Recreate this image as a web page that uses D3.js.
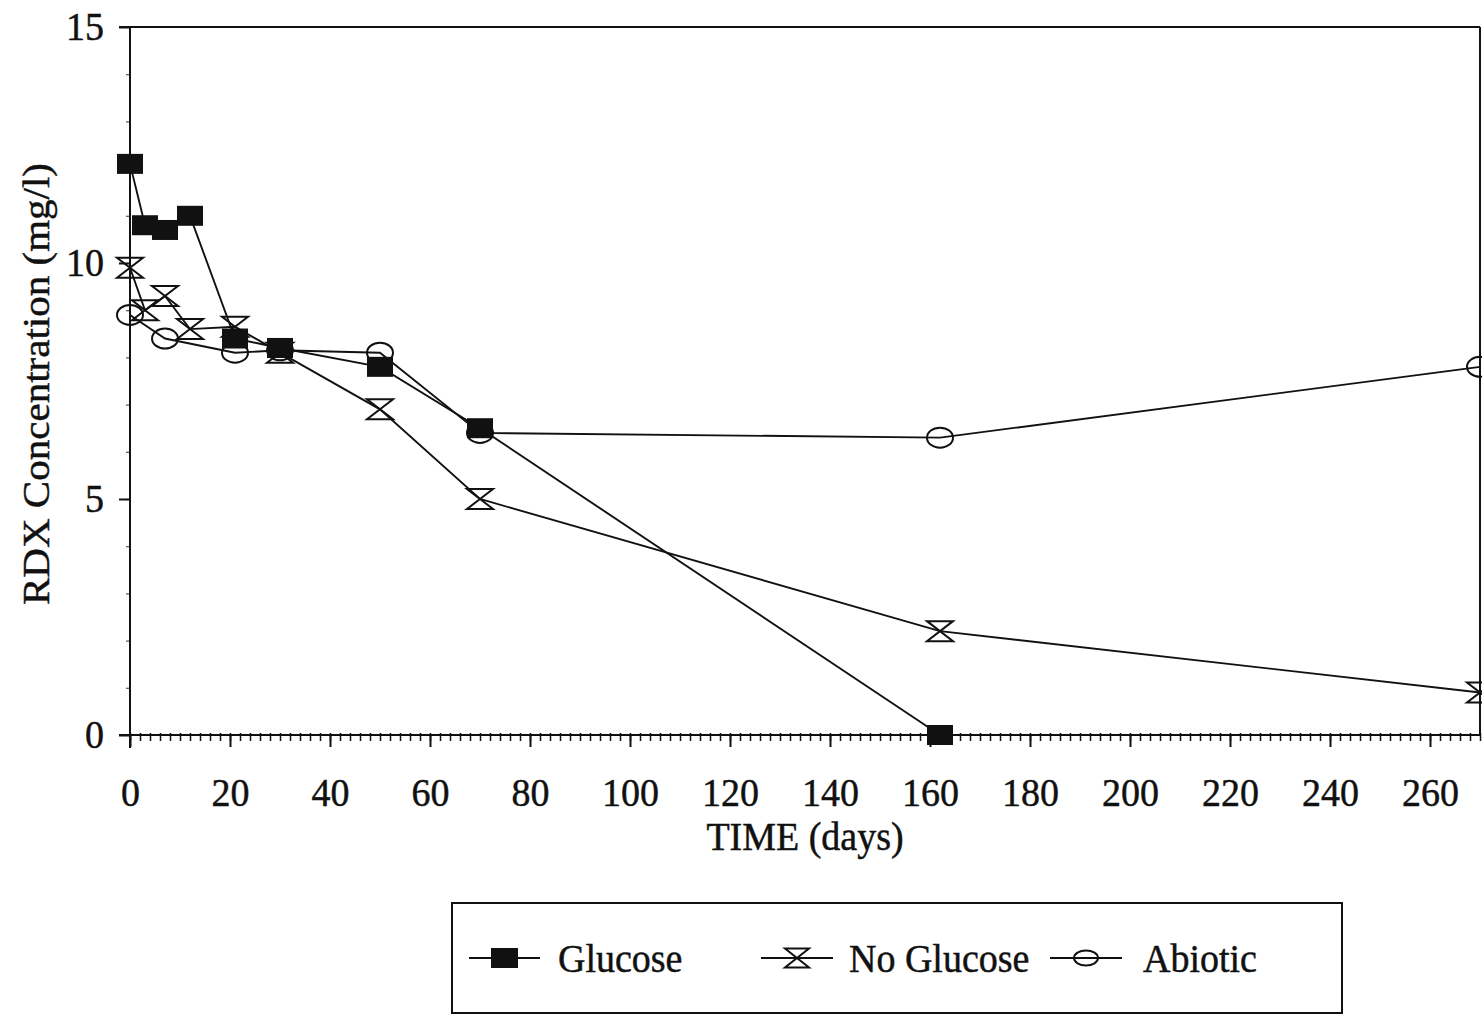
<!DOCTYPE html>
<html>
<head>
<meta charset="utf-8">
<script src="https://cdn.jsdelivr.net/npm/d3@7"></script>
<style>
  html, body { margin: 0; padding: 0; background: #fff; }
  svg { display: block; }
  text { font-family: "Liberation Serif", "Times New Roman", serif; fill: #111; stroke: #111; stroke-width: 0.45px; }
</style>
</head>
<body>
<svg id="chart" width="1482" height="1015"></svg>
<script>
// RDX concentration over time for three treatments
const glucoseDays   = [0, 3, 7, 12, 21, 30, 50, 70, 162];
const glucoseRDX    = [12.1, 10.8, 10.7, 11.0, 8.4, 8.2, 7.8, 6.5, 0];
const noGlucoseDays = [0, 3, 7, 12, 21, 30, 50, 70, 162, 270];
const noGlucoseRDX  = [9.9, 9.0, 9.3, 8.6, 8.65, 8.1, 6.9, 5.0, 2.2, 0.9];
const abioticDays   = [0, 7, 21, 30, 50, 70, 162, 270];
const abioticRDX    = [8.9, 8.4, 8.1, 8.15, 8.1, 6.4, 6.3, 7.8];

const xTicks = [0, 20, 40, 60, 80, 100, 120, 140, 160, 180, 200, 220, 240, 260];
const yTicks = [0, 5, 10, 15];
const seriesNames = ["Glucose", "No Glucose", "Abiotic"];

const svg = d3.select("#chart");
const ink = "#111";
const stretch = "scale(1,1.08)";

const x = d3.scaleLinear().domain([0, 270]).range([130, 1480]);
const y = d3.scaleLinear().domain([0, 15]).range([735, 27]);

// frame: top and right edges
svg.append("line").attr("x1", 119).attr("x2", x(270)).attr("y1", y(15)).attr("y2", y(15))
  .attr("stroke", ink).attr("stroke-width", 2);
svg.append("line").attr("x1", x(270)).attr("x2", x(270)).attr("y1", y(15)).attr("y2", y(0))
  .attr("stroke", ink).attr("stroke-width", 2);

// minor x ticks every 2 days
const minor = svg.append("g").attr("transform", "translate(0,733)")
  .call(d3.axisBottom(x).tickValues(d3.range(0, 271, 2)).tickSize(8).tickFormat(""));
minor.select(".domain").remove();
minor.selectAll("line").attr("stroke", ink).attr("stroke-width", 1.5);

// major x axis
const xAxis = svg.append("g").attr("transform", `translate(0,${y(0)})`)
  .call(d3.axisBottom(x).tickValues(xTicks).tickSize(12).tickSizeOuter(0));
xAxis.select(".domain").attr("d", `M119,0H${x(270)}`).attr("stroke", ink).attr("stroke-width", 2);
xAxis.selectAll(".tick line").attr("stroke", ink).attr("stroke-width", 2);
xAxis.selectAll(".tick text")
  .attr("y", null).attr("dy", null)
  .attr("transform", `translate(0,71) ${stretch}`)
  .style("font-size", "38px").attr("fill", ink);

// minor y ticks every unit
const yMinor = svg.append("g").attr("transform", `translate(${x(0)},0)`)
  .call(d3.axisLeft(y).tickValues(d3.range(0, 16, 1)).tickSize(4).tickFormat(""));
yMinor.select(".domain").remove();
yMinor.selectAll("line").attr("stroke", "#555").attr("stroke-width", 1.2);

// y axis
const yAxis = svg.append("g").attr("transform", `translate(${x(0)},0)`)
  .call(d3.axisLeft(y).tickValues(yTicks).tickSize(11).tickSizeOuter(0));
yAxis.select(".domain").attr("d", `M0,${y(15)}V${y(0) + 13}`).attr("stroke", ink).attr("stroke-width", 2);
yAxis.selectAll(".tick line").attr("stroke", ink).attr("stroke-width", 2);
yAxis.selectAll(".tick text")
  .attr("x", null).attr("dy", null)
  .attr("transform", `translate(-26,12) ${stretch}`)
  .attr("text-anchor", "end")
  .style("font-size", "38px").attr("fill", ink);

// axis titles
svg.append("text")
  .attr("transform", `translate(${(x(0) + x(270)) / 2},850) ${stretch}`)
  .attr("text-anchor", "middle").style("font-size", "38px")
  .text("TIME (days)");
svg.append("text")
  .attr("transform", `translate(49,384) ${stretch} rotate(-90)`)
  .attr("text-anchor", "middle").style("font-size", "38px")
  .text("RDX Concentration (mg/l)");

// marker shapes
function drawMarker(g, kind, w, h) {
  if (kind === 0) {
    g.append("rect").attr("x", -w / 2).attr("y", -h / 2).attr("width", w).attr("height", h)
      .attr("fill", ink);
  } else if (kind === 1) {
    g.append("path")
      .attr("d", `M${-w / 2},${-h / 2}L${w / 2},${-h / 2}L${-w / 2},${h / 2}L${w / 2},${h / 2}Z`)
      .attr("fill", "none").attr("stroke", ink).attr("stroke-width", 2)
      .attr("stroke-linejoin", "miter");
  } else {
    g.append("ellipse").attr("rx", w / 2).attr("ry", h / 2)
      .attr("fill", "none").attr("stroke", ink).attr("stroke-width", 2);
  }
}

const series = [
  { days: abioticDays, vals: abioticRDX, kind: 2 },
  { days: noGlucoseDays, vals: noGlucoseRDX, kind: 1 },
  { days: glucoseDays, vals: glucoseRDX, kind: 0 }
];

const line = d3.line().x(d => x(d[0])).y(d => y(d[1]));

series.forEach(s => {
  const pts = s.days.map((d, i) => [d, s.vals[i]]);
  svg.append("path").attr("d", line(pts))
    .attr("fill", "none").attr("stroke", ink).attr("stroke-width", 1.9);
});
series.forEach(s => {
  const pts = s.days.map((d, i) => [d, s.vals[i]]);
  pts.forEach(p => {
    const g = svg.append("g").attr("transform", `translate(${x(p[0])},${y(p[1])})`);
    drawMarker(g, s.kind, 26, 20);
  });
});

// legend
const legend = svg.append("g");
legend.append("rect").attr("x", 452).attr("y", 903).attr("width", 890).attr("height", 110)
  .attr("fill", "#fff").attr("stroke", ink).attr("stroke-width", 2);

const legendItems = [
  { name: seriesNames[0], kind: 0, x1: 469, x2: 540, text: 558, w: 27, h: 20 },
  { name: seriesNames[1], kind: 1, x1: 761, x2: 833, text: 849, w: 24, h: 19 },
  { name: seriesNames[2], kind: 2, x1: 1050, x2: 1122, text: 1143, w: 24, h: 15 }
];
legendItems.forEach(it => {
  const cy = 958;
  legend.append("line").attr("x1", it.x1).attr("x2", it.x2).attr("y1", cy).attr("y2", cy)
    .attr("stroke", ink).attr("stroke-width", 1.8);
  const g = legend.append("g").attr("transform", `translate(${(it.x1 + it.x2) / 2},${cy})`);
  drawMarker(g, it.kind, it.w, it.h);
  legend.append("text").attr("transform", `translate(${it.text},972) ${stretch}`)
    .style("font-size", "38px").text(it.name);
});
</script>
</body>
</html>
